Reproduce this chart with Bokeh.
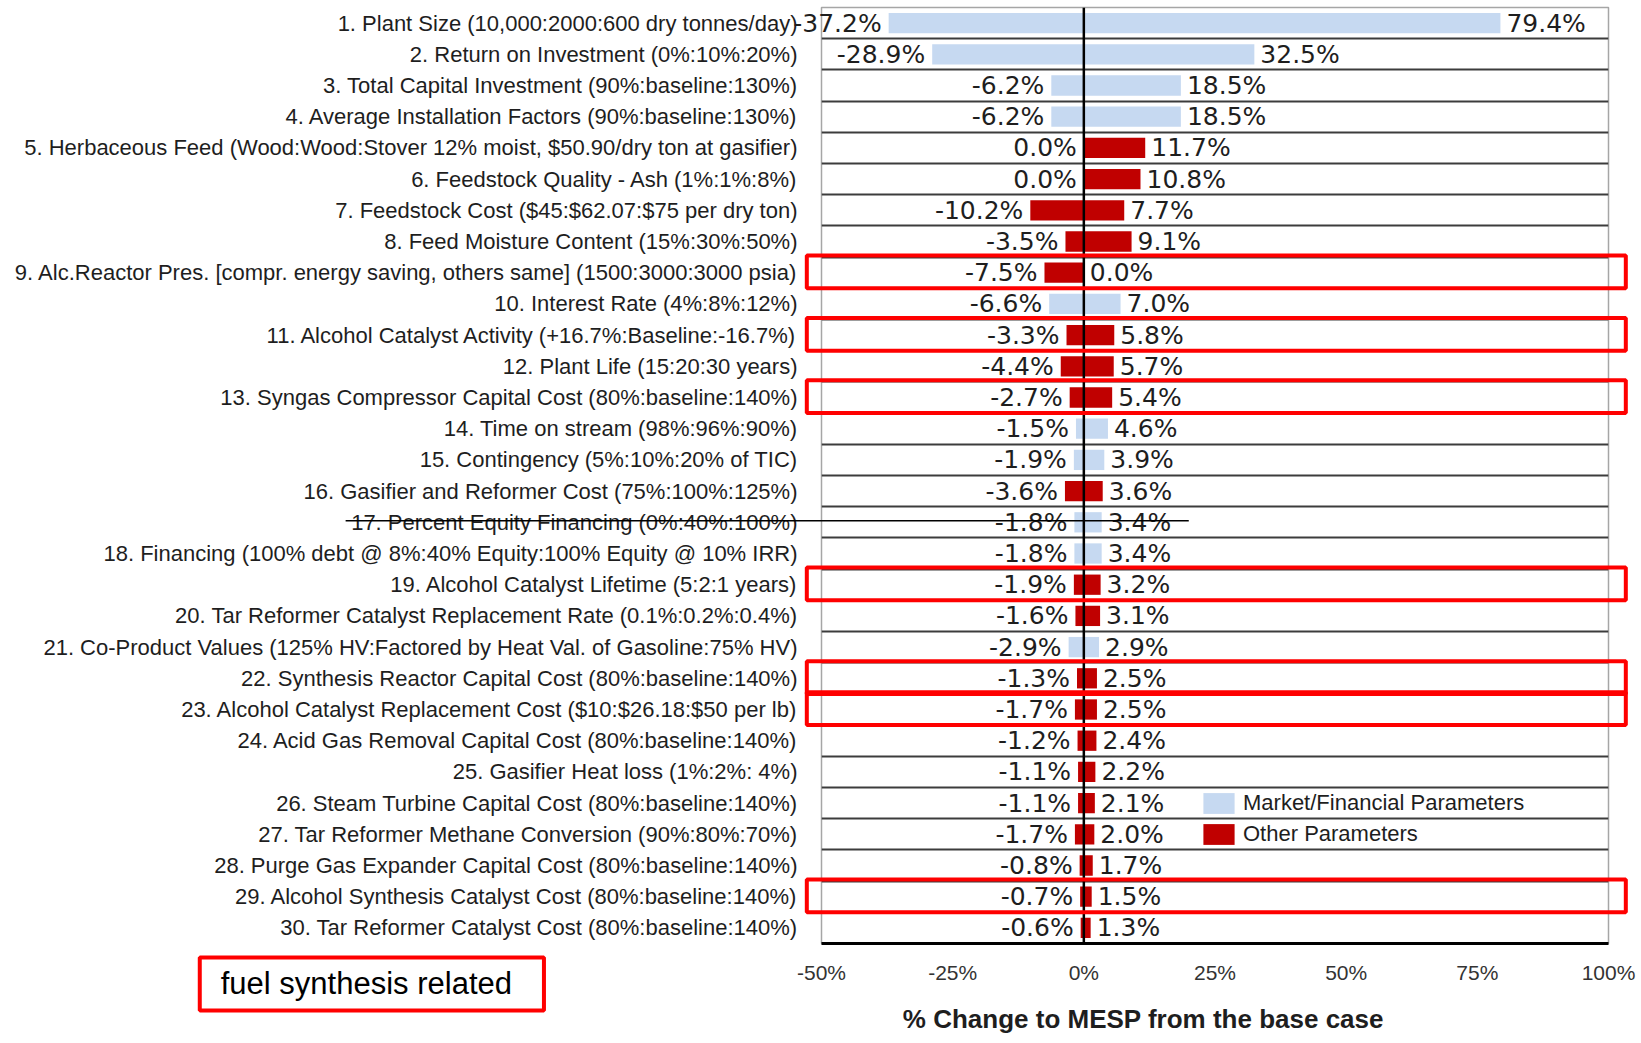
from bokeh.plotting import figure
from bokeh.models import (ColumnDataSource, Legend, LegendItem, FixedTicker, Span, Range1d)
from bokeh.embed import file_html
from bokeh.resources import INLINE
from bokeh.core.properties import value

# ---------------- data ----------------
parameters = [
    "1. Plant Size (10,000:2000:600 dry tonnes/day)",
    "2. Return on Investment (0%:10%:20%)",
    "3. Total Capital Investment (90%:baseline:130%)",
    "4. Average Installation Factors (90%:baseline:130%)",
    "5. Herbaceous Feed (Wood:Wood:Stover 12% moist, $50.90/dry ton at gasifier)",
    "6. Feedstock Quality - Ash (1%:1%:8%)",
    "7. Feedstock Cost ($45:$62.07:$75 per dry ton)",
    "8. Feed Moisture Content (15%:30%:50%)",
    "9. Alc.Reactor Pres. [compr. energy saving, others same] (1500:3000:3000 psia)",
    "10. Interest Rate (4%:8%:12%)",
    "11. Alcohol Catalyst Activity (+16.7%:Baseline:-16.7%)",
    "12. Plant Life (15:20:30 years)",
    "13. Syngas Compressor Capital Cost (80%:baseline:140%)",
    "14. Time on stream (98%:96%:90%)",
    "15. Contingency (5%:10%:20% of TIC)",
    "16. Gasifier and Reformer Cost (75%:100%:125%)",
    "17. Percent Equity Financing (0%:40%:100%)",
    "18. Financing (100% debt @ 8%:40% Equity:100% Equity @ 10% IRR)",
    "19. Alcohol Catalyst Lifetime (5:2:1 years)",
    "20. Tar Reformer Catalyst Replacement Rate (0.1%:0.2%:0.4%)",
    "21. Co-Product Values (125% HV:Factored by Heat Val. of Gasoline:75% HV)",
    "22. Synthesis Reactor Capital Cost (80%:baseline:140%)",
    "23. Alcohol Catalyst Replacement Cost ($10:$26.18:$50 per lb)",
    "24. Acid Gas Removal Capital Cost (80%:baseline:140%)",
    "25. Gasifier Heat loss (1%:2%: 4%)",
    "26. Steam Turbine Capital Cost (80%:baseline:140%)",
    "27. Tar Reformer Methane Conversion (90%:80%:70%)",
    "28. Purge Gas Expander Capital Cost (80%:baseline:140%)",
    "29. Alcohol Synthesis Catalyst Cost (80%:baseline:140%)",
    "30. Tar Reformer Catalyst Cost (80%:baseline:140%)",
]
low_change = [-37.2, -28.9, -6.2, -6.2, 0.0, 0.0, -10.2, -3.5, -7.5, -6.6,
              -3.3, -4.4, -2.7, -1.5, -1.9, -3.6, -1.8, -1.8, -1.9, -1.6,
              -2.9, -1.3, -1.7, -1.2, -1.1, -1.1, -1.7, -0.8, -0.7, -0.6]
high_change = [79.4, 32.5, 18.5, 18.5, 11.7, 10.8, 7.7, 9.1, 0.0, 7.0,
               5.8, 5.7, 5.4, 4.6, 3.9, 3.6, 3.4, 3.4, 3.2, 3.1,
               2.9, 2.5, 2.5, 2.4, 2.2, 2.1, 2.0, 1.7, 1.5, 1.3]
group = ["M", "M", "M", "M", "O", "O", "O", "O", "O", "M",
         "O", "O", "O", "M", "M", "O", "M", "M", "O", "O",
         "M", "O", "O", "O", "O", "O", "O", "O", "O", "O"]
group_names = {"M": "Market/Financial Parameters", "O": "Other Parameters"}
group_colors = {"M": "#C6D9F1", "O": "#C00000"}
fuel_synthesis_rows = [9, 11, 13, 19, 22, 23, 29]
struck_rows = [17]
x_ticks = [-50, -25, 0, 25, 50, 75, 100]
x_tick_labels = ["-50%", "-25%", "0%", "25%", "50%", "75%", "100%"]
x_title = "% Change to MESP from the base case"
box_note = "fuel synthesis related"

# ---------------- figure ----------------
n = len(parameters)
ypos = [i + 0.5 for i in range(n)]

p = figure(width=1636, height=1040, title=None,
           x_range=Range1d(-50, 100), y_range=Range1d(n, 0),
           output_backend="svg", toolbar_location=None,
           min_border_left=821, min_border_right=28,
           min_border_top=7, min_border_bottom=97)
p.background_fill_color = "white"
p.border_fill_color = "white"
p.outline_line_color = "#a6a6a6"
p.outline_line_width = 1.5

# row separators
p.xgrid.visible = False
p.ygrid.ticker = FixedTicker(ticks=list(range(1, n)))
p.ygrid.grid_line_color = "#3c3c3c"
p.ygrid.grid_line_width = 2

# y axis with parameter names
p.yaxis.ticker = FixedTicker(ticks=ypos)
p.yaxis.major_label_overrides = {y: lab for y, lab in zip(ypos, parameters)}
p.yaxis.axis_line_color = None
p.yaxis.major_tick_line_color = None
p.yaxis.minor_tick_line_color = None
p.yaxis.major_tick_out = 0
p.yaxis.major_tick_in = 0
p.yaxis.major_label_standoff = 24
p.yaxis.major_label_text_font = "Liberation Sans"
p.yaxis.major_label_text_font_size = "22px"
p.yaxis.major_label_text_color = "#1e1e1e"

# x axis
p.xaxis.ticker = FixedTicker(ticks=x_ticks)
p.xaxis.major_label_overrides = {t: l for t, l in zip(x_ticks, x_tick_labels)}
p.xaxis.axis_line_color = "black"
p.xaxis.axis_line_width = 3
p.xaxis.major_tick_line_color = None
p.xaxis.minor_tick_line_color = None
p.xaxis.major_tick_out = 0
p.xaxis.major_tick_in = 0
p.xaxis.major_label_standoff = 17
p.xaxis.major_label_text_font = "Liberation Sans"
p.xaxis.major_label_text_font_size = "21px"
p.xaxis.major_label_text_color = "#333333"

# bars
renderers = {}
for g in ["M", "O"]:
    idx = [i for i in range(n) if group[i] == g]
    src = ColumnDataSource(dict(
        y=[ypos[i] for i in idx],
        left=[low_change[i] for i in idx],
        right=[high_change[i] for i in idx],
    ))
    renderers[g] = p.hbar(y="y", left="left", right="right", height=0.65,
                          fill_color=group_colors[g], line_color=None, source=src)

# zero line
p.add_layout(Span(location=0, dimension="height", line_color="black", line_width=2.5))

# value labels (overlay level so they are not clipped to the frame)
lab_src = ColumnDataSource(dict(
    y=ypos, low=low_change, high=high_change,
    low_text=[f"{v:.1f}%" for v in low_change],
    high_text=[f"{v:.1f}%" for v in high_change],
))
common = dict(y="y", source=lab_src, text_baseline="middle",
              text_font=value("DejaVu Sans"), text_font_size=value("25px"),
              text_color="#1e1e1e", level="overlay")
p.text(x="low", text="low_text", x_offset=-7, text_align="right", **common)
p.text(x="high", text="high_text", x_offset=6, text_align="left", **common)

# struck-through row
for r in struck_rows:
    p.segment(x0=[-140.7], y0=[r - 0.55], x1=[20.0], y1=[r - 0.55],
              line_color="black", line_width=1.5, level="overlay")

# red "fuel synthesis related" boxes
p.quad(left=[-52.8] * len(fuel_synthesis_rows), right=[103.3] * len(fuel_synthesis_rows),
       top=[r - 1.05 for r in fuel_synthesis_rows], bottom=[r + 0.0 for r in fuel_synthesis_rows],
       fill_color=None, line_color="#FF0000", line_width=4, level="overlay")

# note box at bottom left
p.quad(left=[-168.5], right=[-102.9], top=[30.45], bottom=[32.15],
       fill_color=None, line_color="#FF0000", line_width=4, level="overlay")
p.text(x=[-164.5], y=[31.28], text=[box_note], text_font=value("Liberation Sans"),
       text_font_size=value("31px"), text_baseline="middle", text_color="black",
       level="overlay")

# x title
p.text(x=[-34.5], y=[32.42], text=[x_title], text_font=value("Liberation Sans"),
       text_font_size=value("26px"), text_font_style="bold",
       text_baseline="middle", text_color="#1e1e1e", level="overlay")

# legend
legend = Legend(items=[LegendItem(label=group_names[g], renderers=[renderers[g]]) for g in ["M", "O"]],
                location=(378, 96), background_fill_alpha=0, border_line_color=None,
                glyph_width=39, glyph_height=26, label_height=26,
                label_text_font="Liberation Sans", label_text_font_size="22px",
                label_text_color="#1e1e1e", label_standoff=5, spacing=5,
                padding=0, margin=0)
p.add_layout(legend)

open("out.html", "w").write(file_html(p, INLINE))
